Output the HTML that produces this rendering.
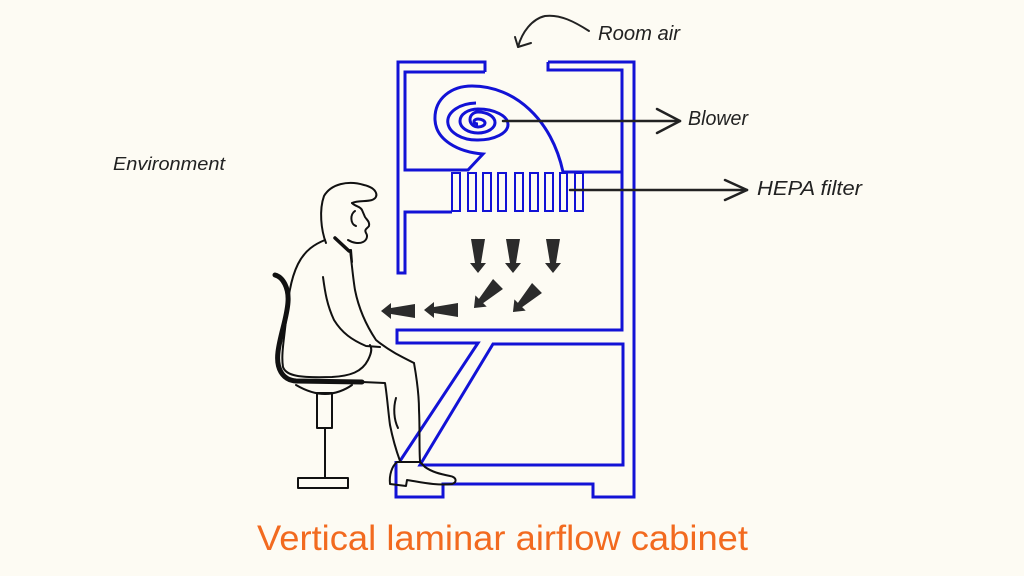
<!DOCTYPE html>
<html><head><meta charset="utf-8"><style>
html,body{margin:0;padding:0;background:#fdfbf3;}
svg{display:block;}
</style></head><body>
<svg width="1024" height="576" viewBox="0 0 1024 576" xmlns="http://www.w3.org/2000/svg">
<rect width="1024" height="576" fill="#fdfbf3"/>
<g fill="none" stroke="#1212d6" stroke-width="3" stroke-linejoin="miter">
  <!-- left wall -->
  <path d="M485 72 L485 62 L398 62 L398 273 L405 273 L405 212 L452 212"/>
  <path d="M485 72 L405 72 L405 170 L468 170 L483 154 C458 152 436 140 435 120 C434 98 452 86 472 86 C515 86 552 120 563 172 L622 172"/>
  <!-- right wall / outer -->
  <path d="M548 62 L634 62 L634 497 L593 497 L593 484 L443 484 L443 497 L396 497 L396 461"/>
  <path d="M548 62 L548 70 L622 70 L622 330 L397 330 L397 343 L478 343 L400 461"/>
  <path d="M493 344 L623 344 L623 465 L420 465 Z"/>
  <!-- spiral -->
  <path d="M476 103 A29.25 18.5 0 0 0 478 140 A30 15.5 0 0 0 478 109 A18 12 0 0 0 478 133 A17 10.5 0 0 0 478 112 A8 7.5 0 0 0 478 127 A7 4 0 0 0 478 119 A4 2.5 0 0 0 478 124"/>
  <!-- filter -->
  <rect x="452" y="173" width="8" height="38" stroke-width="2"/>
  <rect x="468" y="173" width="8" height="38" stroke-width="2"/>
  <rect x="483" y="173" width="8" height="38" stroke-width="2"/>
  <rect x="498" y="173" width="8" height="38" stroke-width="2"/>
  <rect x="515" y="173" width="8" height="38" stroke-width="2"/>
  <rect x="530" y="173" width="8" height="38" stroke-width="2"/>
  <rect x="545" y="173" width="8" height="38" stroke-width="2"/>
  <rect x="560" y="173" width="7" height="38" stroke-width="2"/>
  <rect x="575" y="173" width="8" height="38" stroke-width="2"/>
</g>

<!-- airflow arrows -->
<g fill="#2b2b2b">
  <path transform="translate(478,239)" d="M-7 0 L7 0 L3 24 L8 24 L0 34 L-8 24 L-3 24 Z"/>
  <path transform="translate(513,239)" d="M-7 0 L7 0 L3 24 L8 24 L0 34 L-8 24 L-3 24 Z"/>
  <path transform="translate(553,239)" d="M-7 0 L7 0 L3 24 L8 24 L0 34 L-8 24 L-3 24 Z"/>
  <path transform="translate(498,284) rotate(45)" d="M-7 0 L7 0 L3 24 L8 24 L0 34 L-8 24 L-3 24 Z"/>
  <path transform="translate(537,288) rotate(45)" d="M-7 0 L7 0 L3 24 L8 24 L0 34 L-8 24 L-3 24 Z"/>
  <path transform="translate(415,311) rotate(90)" d="M-7 0 L7 0 L3 24 L8 24 L0 34 L-8 24 L-3 24 Z"/>
  <path transform="translate(458,310) rotate(90)" d="M-7 0 L7 0 L3 24 L8 24 L0 34 L-8 24 L-3 24 Z"/>
</g>

<!-- connectors -->
<g fill="none" stroke="#222" stroke-width="2.5" stroke-linecap="round" stroke-linejoin="round">
  <path d="M503 121 L680 121"/>
  <path d="M657 109 L680 121 L657 133"/>
  <path d="M570 190 L747 190"/>
  <path d="M725 180 L747 190 L725 200"/>
  <path d="M589 31 C575 22 560 14 545 16 C532 19 522 32 518 47" stroke-width="2"/>
  <path d="M515 37 L518 47 L531 43" stroke-width="2"/>
</g>

<!-- person -->
<g fill="none" stroke="#111" stroke-width="2" stroke-linecap="round" stroke-linejoin="round">
  <path d="M326 243 C321 230 319 210 324 196 C331 184 348 180 364 185 C377 188 380 197 372 200 C366 202 358 200 352 203"/>
  <path d="M352 203 C356 207 360 206 362 210 L365 217 C367 220 370 222 369 226 C367 229 364 229 366 233 C368 236 367 240 363 242 C359 244 353 243 348 240"/>
  <path d="M355 211 C350 214 350 224 356 226"/>
  <path d="M335 238 L349 251" stroke-width="3.5"/>
  <path d="M351 250 L352 262"/>
  <path d="M325 240 C315 244 305 250 298 264 C290 280 288 300 286 320 C284 340 281 355 283 367 C286 376 300 378 332 377 C350 376 362 372 368 360 C372 352 372 348 370 345"/>
  <path d="M350 250 C352 265 353 278 355 290 C358 305 364 322 376 340 C388 350 400 356 414 363"/>
  <path d="M323 277 C325 292 327 305 334 320 C342 333 352 340 366 346 L380 347"/>
  <path d="M362 382 L385 383 C387 395 388 410 390 425 C393 440 396 450 400 461"/>
  <path d="M414 363 C417 380 419 395 419 410 C420 430 419 445 420 461"/>
  <path d="M396 398 C393 408 394 420 398 428"/>
  <path d="M397 462 C392 466 389 475 390 484 L406 486 L407 480 C420 482 437 486 452 484 C458 482 456 477 450 476 C440 474 432 472 425 467 L420 462 Z"/>
</g>

<!-- chair -->
<g fill="none" stroke="#111" stroke-linecap="round" stroke-linejoin="round">
  <path d="M275 275 C283 277 289 288 288 302 C287 318 280 335 278 352 C276 368 282 380 296 381 L362 382" stroke-width="5"/>
  <path d="M296 385 C308 392 318 394 325 394 C335 394 345 390 352 385" stroke-width="2"/>
  <rect x="317" y="393" width="15" height="35" stroke-width="2"/>
  <path d="M325 428 L325 478" stroke-width="2"/>
  <rect x="298" y="478" width="50" height="10" stroke-width="2"/>
</g>

<!-- labels -->
<g font-family="'Liberation Sans', sans-serif" font-style="italic" fill="#222">
  <text x="598" y="40" font-size="20" textLength="82" lengthAdjust="spacingAndGlyphs">Room air</text>
  <text x="688" y="125" font-size="20" textLength="60" lengthAdjust="spacingAndGlyphs">Blower</text>
  <text x="757" y="195" font-size="20" textLength="105" lengthAdjust="spacingAndGlyphs">HEPA filter</text>
  <text x="113" y="170" font-size="18" textLength="112" lengthAdjust="spacingAndGlyphs">Environment</text>
</g>
<text x="257" y="550" font-family="'Liberation Sans', sans-serif" font-size="35" fill="#f26a1f" textLength="491" lengthAdjust="spacingAndGlyphs">Vertical laminar airflow cabinet</text>
</svg>
</body></html>
